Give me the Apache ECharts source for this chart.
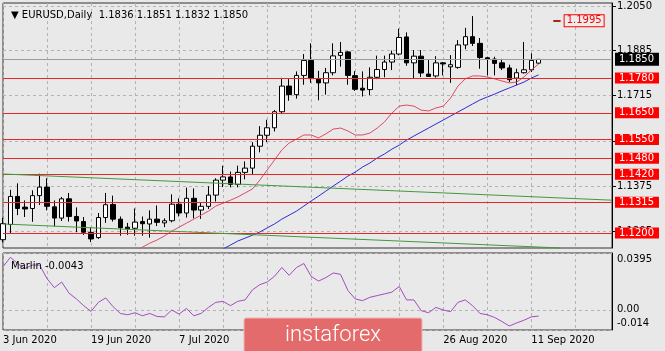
<!DOCTYPE html>
<html>
<head>
<meta charset="utf-8">
<script src="https://cdn.jsdelivr.net/npm/echarts@6.0.0/dist/echarts.min.js"></script>
<style>
  html, body { margin: 0; padding: 0; background: #e8e8e8; }
  #chart { width: 665px; height: 351px; }
</style>
</head>
<body>
<div id="chart"></div>
<script>
// trading days (year added by the label formatter); the last 10 are empty slots to the right
const dates = [
  '3 Jun','4 Jun','5 Jun','8 Jun','9 Jun','10 Jun','11 Jun','12 Jun','15 Jun','16 Jun',
  '17 Jun','18 Jun','19 Jun','22 Jun','23 Jun','24 Jun','25 Jun','26 Jun','29 Jun','30 Jun',
  '1 Jul','2 Jul','3 Jul','6 Jul','7 Jul','8 Jul','9 Jul','10 Jul','13 Jul','14 Jul',
  '15 Jul','16 Jul','17 Jul','20 Jul','21 Jul','22 Jul','23 Jul','24 Jul','27 Jul','28 Jul',
  '29 Jul','30 Jul','31 Jul','3 Aug','4 Aug','5 Aug','6 Aug','7 Aug','10 Aug','11 Aug',
  '12 Aug','13 Aug','14 Aug','17 Aug','18 Aug','19 Aug','20 Aug','21 Aug','24 Aug','25 Aug',
  '26 Aug','27 Aug','28 Aug','31 Aug','1 Sep','2 Sep','3 Sep','4 Sep','7 Sep','8 Sep',
  '9 Sep','10 Sep','11 Sep','14 Sep',
  '15 Sep','16 Sep','17 Sep','18 Sep','21 Sep','22 Sep','23 Sep','24 Sep','25 Sep','28 Sep'
];

// open, high, low, close
const ohlc = [
  [1.1175,1.1257,1.1165,1.1235],[1.1232,1.1362,1.1200,1.1337],[1.1337,1.1386,1.1267,1.1292],
  [1.1297,1.1322,1.1260,1.1290],[1.1292,1.1360,1.1242,1.1340],[1.1340,1.1422,1.1305,1.1372],
  [1.1372,1.1405,1.1285,1.1300],[1.1298,1.1322,1.1225,1.1256],[1.1256,1.1335,1.1245,1.1328],
  [1.1328,1.1350,1.1243,1.1262],[1.1262,1.1296,1.1203,1.1245],[1.1243,1.1260,1.1193,1.1203],
  [1.1202,1.1222,1.1166,1.1178],[1.1183,1.1275,1.1178,1.1258],[1.1258,1.1350,1.1238,1.1306],
  [1.1307,1.1340,1.1243,1.1252],[1.1252,1.1262,1.1190,1.1220],[1.1222,1.1238,1.1193,1.1216],
  [1.1218,1.1292,1.1190,1.1241],[1.1243,1.1262,1.1190,1.1235],[1.1234,1.1285,1.1183,1.1252],
  [1.1252,1.1303,1.1226,1.1240],[1.1238,1.1255,1.1222,1.1246],[1.1246,1.1345,1.1240,1.1308],
  [1.1308,1.1330,1.1262,1.1275],[1.1275,1.1370,1.1258,1.1330],[1.1330,1.1367,1.1255,1.1286],
  [1.1286,1.1312,1.1253,1.1300],[1.1300,1.1375,1.1290,1.1342],[1.1342,1.1405,1.1318,1.1398],
  [1.1398,1.1452,1.1372,1.1410],[1.1410,1.1430,1.1371,1.1382],[1.1382,1.1452,1.1371,1.1427],
  [1.1427,1.1468,1.1401,1.1443],[1.1443,1.1540,1.1420,1.1525],[1.1525,1.1600,1.1502,1.1566],
  [1.1566,1.1624,1.1540,1.1594],[1.1594,1.1660,1.1580,1.1654],[1.1654,1.1781,1.1645,1.1750],
  [1.1750,1.1776,1.1695,1.1718],[1.1718,1.1805,1.1703,1.1790],[1.1790,1.1870,1.1755,1.1846],
  [1.1846,1.1910,1.1762,1.1778],[1.1777,1.1807,1.1697,1.1762],[1.1762,1.1818,1.1718,1.1800],
  [1.1800,1.1910,1.1790,1.1863],[1.1865,1.1915,1.1823,1.1876],[1.1878,1.1881,1.1755,1.1790],
  [1.1789,1.1806,1.1732,1.1738],[1.1742,1.1805,1.1711,1.1735],[1.1737,1.1820,1.1716,1.1783],
  [1.1783,1.1864,1.1776,1.1812],[1.1812,1.1864,1.1783,1.1840],[1.1840,1.1883,1.1810,1.1870],
  [1.1870,1.1965,1.1865,1.1932],[1.1934,1.1951,1.1826,1.1837],[1.1837,1.1885,1.1780,1.1862],
  [1.1862,1.1885,1.1784,1.1799],[1.1795,1.1848,1.1784,1.1786],[1.1788,1.1862,1.1782,1.1837],
  [1.1837,1.1840,1.1790,1.1833],[1.1822,1.1866,1.1762,1.1830],[1.1820,1.1922,1.1815,1.1904],
  [1.1904,1.1968,1.1888,1.1935],[1.1935,1.2012,1.1900,1.1910],[1.1910,1.1930,1.1815,1.1857],
  [1.1856,1.1860,1.1790,1.1851],[1.1851,1.1860,1.1790,1.1835],[1.1837,1.1852,1.1810,1.1818],
  [1.1818,1.1830,1.1765,1.1774],[1.1780,1.1815,1.1753,1.1800],[1.1800,1.1915,1.1797,1.1811],
  [1.1811,1.1872,1.1803,1.1846],[1.1836,1.1851,1.1832,1.1850]
];

// moving averages (first value sits on the lower edge)
const redStart = 18;
const redMA = [
  1.1132,1.1147,1.1162,1.1174,1.1189,1.1207,1.1222,1.1237,1.1252,1.1267,
  1.1282,1.1301,1.1312,1.1323,1.1335,1.1350,1.1365,1.1398,1.1436,1.1473,
  1.1511,1.1537,1.1552,1.1567,1.1567,1.1556,1.1571,1.1589,1.1593,1.1582,
  1.1567,1.1567,1.1574,1.1593,1.1616,1.1649,1.1675,1.1679,1.1675,1.1660,
  1.1657,1.1668,1.1675,1.1705,1.1750,1.1777,1.1788,1.1788,1.1784,1.1777,
  1.1769,1.1762,1.1765,1.1784,1.1810,1.1833
];
const blueStart = 29;
const blueMA = [
  1.1125,1.1140,1.1155,1.1170,1.1181,1.1192,1.1204,1.1219,1.1234,1.1252,
  1.1267,1.1282,1.1301,1.1320,1.1338,1.1357,1.1376,1.1394,1.1413,1.1428,
  1.1447,1.1462,1.1481,1.1496,1.1514,1.1529,1.1548,1.1563,1.1578,1.1593,
  1.1608,1.1623,1.1638,1.1653,1.1668,1.1683,1.1698,1.1709,1.1720,1.1732,
  1.1743,1.1754,1.1765,1.1780,1.1792
];

// Marlin oscillator, one value per candle
const marlin = [
  0.0299,0.0365,0.0322,0.0287,0.0311,0.0311,0.0217,0.0154,0.0193,0.0116,
  0.0076,0.0029,-0.0011,0.0052,0.0083,0.0022,-0.0025,-0.0034,-0.0020,-0.0041,
  -0.0025,-0.0046,-0.0049,-0.0001,-0.0030,0.0010,-0.0041,-0.0025,0.0017,0.0052,
  0.0059,0.0029,0.0059,0.0069,0.0139,0.0175,0.0193,0.0233,0.0294,0.0240,
  0.0294,0.0322,0.0233,0.0200,0.0224,0.0256,0.0247,0.0135,0.0076,0.0064,
  0.0087,0.0099,0.0111,0.0123,0.0163,0.0069,0.0069,-0.0006,-0.0020,0.0017,
  -0.0001,-0.0013,0.0052,0.0069,0.0029,-0.0025,-0.0034,-0.0053,-0.0081,-0.0112,
  -0.0091,-0.0072,-0.0049,-0.0043
];

const levels = [1.1780, 1.1650, 1.1550, 1.1480, 1.1420, 1.1315, 1.1200];
const target = 1.1995;
const priceTicks = [1.2050, 1.1885, 1.1715, 1.1545, 1.1375, 1.1205];
const marlinTicks = [-0.014, 0, 0.0395];
// channel lines: [barIndex, price] pairs
const channels = [
  [[22, 1.2062], [83, 1.1986]],
  [[0, 1.1421], [83, 1.1323]],
  [[0, 1.1234], [76, 1.1144]]
];

const FONT = 'DejaVu Sans';
const lastBar = dates.length - 1;
const last = ohlc[ohlc.length - 1];
const candleData = ohlc.map(r => [r[0], r[3], r[2], r[1]]);
const pad = (n) => Array(n).fill(null);

const chart = echarts.init(document.getElementById('chart'));

const gridLine = { color: '#b3b3b3', type: [3, 3], width: 1 };

// horizontal line across the whole panel with a boxed price tag on the right
function hline(v, color, bg, padding) {
  return [
    {
      coord: [0, v],
      lineStyle: { color: color, width: 1, type: 'solid' },
      label: {
        show: true, position: 'end', distance: 3, formatter: v.toFixed(4),
        backgroundColor: bg, color: '#fff', padding: padding,
        fontSize: 10, fontFamily: FONT
      }
    },
    { coord: [lastBar, v] }
  ];
}

const markData = [hline(last[3], '#9c9c9c', '#000', [2, 5, 1, 4])]
  .concat(levels.map(v => hline(v, '#e5262b', '#ff0000', [1, 5, 0, 4])))
  .concat([[
    {
      coord: [75, target],
      lineStyle: { color: '#a4281c', width: 2, type: 'solid' },
      label: {
        show: true, position: 'end', distance: 4, formatter: target.toFixed(4),
        color: '#ff0000', borderColor: '#ff0000', borderWidth: 1,
        backgroundColor: '#ececec', padding: [1, 2, 0, 2],
        fontSize: 10, fontFamily: FONT
      }
    },
    { coord: [76, target] }
  ]])
  .concat(channels.map(c => [
    { coord: c[0], lineStyle: { color: '#3f9b3f', width: 1, type: 'solid' }, label: { show: false } },
    { coord: c[1] }
  ]));

chart.setOption({
  animation: false,
  backgroundColor: '#e8e8e8',
  title: [
    {
      text: '\u25BC EURUSD,Daily  ' + last.map(v => v.toFixed(4)).join(' '),
      left: 6, top: 5,
      textStyle: { fontSize: 10, fontWeight: 'normal', fontFamily: FONT, color: '#000' }
    },
    {
      text: 'Marlin ' + marlin[marlin.length - 1].toFixed(4),
      left: 6, top: 256,
      textStyle: { fontSize: 10, fontWeight: 'normal', fontFamily: FONT, color: '#000' }
    }
  ],
  grid: [
    { left: 3, right: 53, top: 3, height: 245, show: true, borderColor: '#333', borderWidth: 1, backgroundColor: '#e9e9e9' },
    { left: 3, right: 53, top: 253, height: 77, show: true, borderColor: '#333', borderWidth: 1, backgroundColor: '#e9e9e9' }
  ],
  xAxis: [
    {
      gridIndex: 0, type: 'category', data: dates, boundaryGap: false,
      axisLine: { show: false }, axisTick: { show: false }, axisLabel: { show: false },
      splitLine: { show: true, interval: 5, lineStyle: gridLine }
    },
    {
      gridIndex: 1, type: 'category', data: dates, boundaryGap: false,
      axisLine: { show: false }, axisTick: { show: false },
      axisLabel: {
        show: true, interval: 11, align: 'left', margin: 5,
        fontSize: 10, fontFamily: FONT, color: '#000',
        formatter: v => v + ' 2020'
      },
      splitLine: { show: true, interval: 5, lineStyle: gridLine }
    }
  ],
  yAxis: [
    {
      gridIndex: 0, type: 'value', position: 'right', min: 1.1144, max: 1.2061,
      axisLine: { show: true, lineStyle: { color: '#000' } },
      axisTick: { show: true, length: 4, customValues: priceTicks, lineStyle: { color: '#000' } },
      axisLabel: {
        customValues: priceTicks, margin: 5, fontSize: 10, fontFamily: FONT, color: '#000',
        formatter: v => v.toFixed(4)
      },
      splitLine: { show: true, lineStyle: gridLine }
    },
    {
      gridIndex: 1, type: 'value', position: 'right', min: -0.014, max: 0.0395,
      axisLine: { show: true, lineStyle: { color: '#000' } },
      axisTick: { show: false, customValues: marlinTicks },
      axisLabel: {
        customValues: marlinTicks, margin: 5, fontSize: 10, fontFamily: FONT, color: '#000',
        formatter: v => v === 0.0395 ? '{t|0.0395}' : (v === 0 ? '0.00' : '{b|-0.014}'),
        rich: {
          t: { fontSize: 10, fontFamily: FONT, color: '#000', padding: [12, 0, 0, 0] },
          b: { fontSize: 10, fontFamily: FONT, color: '#000', padding: [0, 0, 14, 0] }
        }
      },
      splitLine: { show: true, lineStyle: gridLine }
    }
  ],
  series: [
    {
      type: 'candlestick', xAxisIndex: 0, yAxisIndex: 0,
      data: candleData, barWidth: 5,
      itemStyle: { color: '#ffffff', color0: '#000000', borderColor: '#000', borderColor0: '#000', borderWidth: 1 },
      markLine: {
        symbol: ['none', 'none'], silent: true, animation: false,
        label: { show: false },
        data: markData
      }
    },
    {
      type: 'line', xAxisIndex: 0, yAxisIndex: 0, showSymbol: false,
      data: pad(redStart).concat(redMA),
      lineStyle: { color: '#dd4a63', width: 1 }, z: 3
    },
    {
      type: 'line', xAxisIndex: 0, yAxisIndex: 0, showSymbol: false,
      data: pad(blueStart).concat(blueMA),
      lineStyle: { color: '#2c2cd2', width: 1 }, z: 3
    },
    {
      type: 'line', xAxisIndex: 1, yAxisIndex: 1, showSymbol: false,
      data: marlin,
      lineStyle: { color: '#a44cbd', width: 1 }
    }
  ],
  graphic: [
    {
      type: 'rect', z: 100,
      shape: { x: 244, y: 318, width: 178, height: 40, r: 2 },
      style: { fill: '#e46b6b', stroke: '#f2b4b4', lineWidth: 1 }
    },
    {
      type: 'text', z: 101, x: 333, y: 335,
      style: { text: 'instaforex', fill: '#ffffff', font: '300 22px Roboto', textAlign: 'center', textVerticalAlign: 'middle' }
    }
  ]
});
</script>
</body>
</html>
